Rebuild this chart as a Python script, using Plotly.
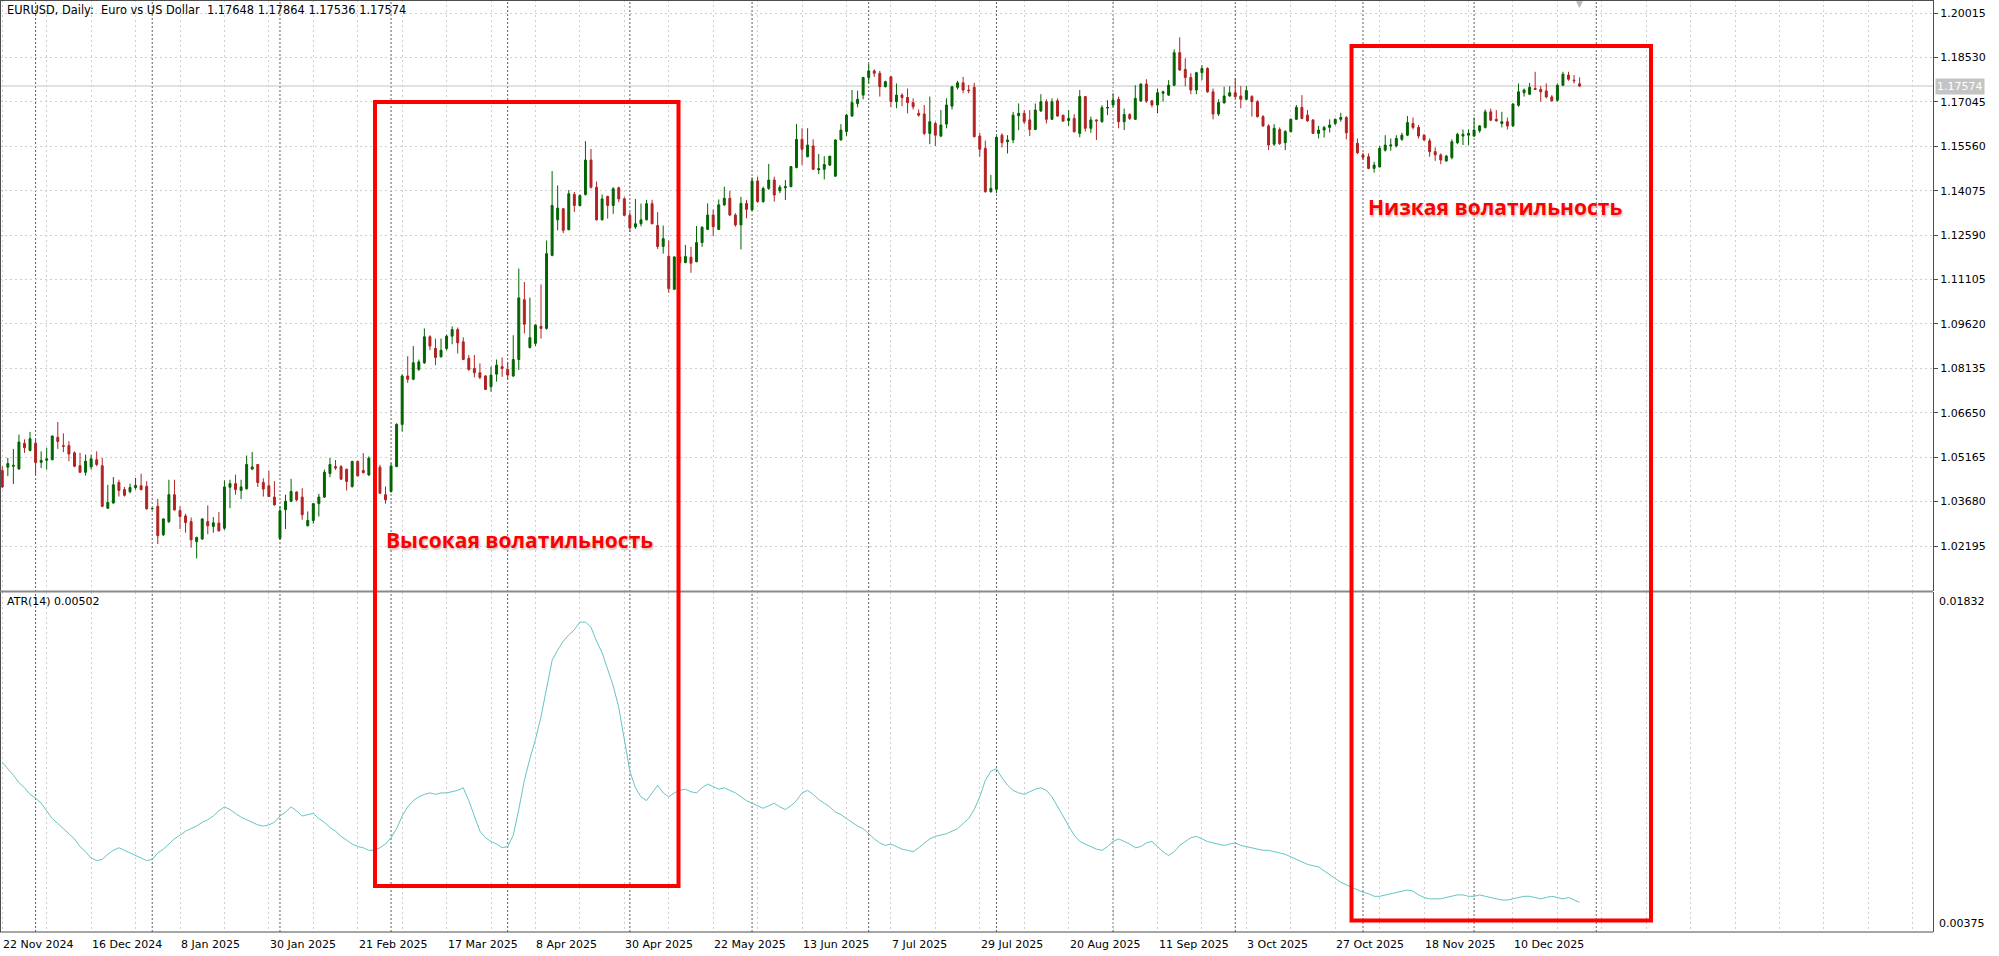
import plotly.graph_objects as go

# ---------------- data ----------------
bar_open = [
    1.0472, 1.0483, 1.0486, 1.0477, 1.0563, 1.0539, 1.0563, 1.0499, 1.0506, 1.0508,
    1.0583, 1.0555, 1.0555, 1.0531, 1.0488, 1.0466, 1.0484, 1.0508, 1.0488, 1.0346,
    1.0363, 1.0432, 1.0408, 1.0401, 1.0415, 1.0421, 1.0419, 1.0344, 1.0352, 1.0257,
    1.0301, 1.0391, 1.0338, 1.0320, 1.0301, 1.0234, 1.0243, 1.0301, 1.0285, 1.0296,
    1.0279, 1.0416, 1.0428, 1.0405, 1.0411, 1.0477, 1.0492, 1.0432, 1.0421, 1.0383,
    1.0245, 1.0341, 1.0369, 1.0400, 1.0383, 1.0287, 1.0305, 1.0361, 1.0383, 1.0462,
    1.0485, 1.0485, 1.0476, 1.0418, 1.0502, 1.0472, 1.0457, 1.0508, 1.0483, 1.0391,
    1.0402, 1.0485, 1.0626, 1.0788, 1.0777, 1.0810, 1.0832, 1.0919, 1.0880, 1.0852,
    1.0880, 1.0921, 1.0943, 1.0902, 1.0847, 1.0813, 1.0799, 1.0788, 1.0752, 1.0794,
    1.0819, 1.0810, 1.0788, 1.0843, 1.1043, 1.0883, 1.0897, 1.0954, 1.0947, 1.1191,
    1.1310, 1.1347, 1.1277, 1.1395, 1.1358, 1.1395, 1.1510, 1.1419, 1.1310, 1.1388,
    1.1358, 1.1417, 1.1380, 1.1325, 1.1286, 1.1297, 1.1310, 1.1364, 1.1291, 1.1221,
    1.1188, 1.1078, 1.1186, 1.1167, 1.1185, 1.1170, 1.1234, 1.1278, 1.1326, 1.1278,
    1.1360, 1.1382, 1.1326, 1.1293, 1.1365, 1.1343, 1.1440, 1.1371, 1.1415, 1.1443,
    1.1407, 1.1417, 1.1421, 1.1485, 1.1579, 1.1521, 1.1557, 1.1477, 1.1479, 1.1493,
    1.1456, 1.1577, 1.1605, 1.1657, 1.1699, 1.1727, 1.1786, 1.1808, 1.1800, 1.1755,
    1.1788, 1.1705, 1.1727, 1.1719, 1.1702, 1.1666, 1.1664, 1.1599, 1.1632, 1.1590,
    1.1630, 1.1690, 1.1753, 1.1768, 1.1744, 1.1753, 1.1590, 1.1549, 1.1404, 1.1412,
    1.1593, 1.1571, 1.1577, 1.1658, 1.1666, 1.1644, 1.1612, 1.1674, 1.1705, 1.1646,
    1.1708, 1.1660, 1.1642, 1.1649, 1.1599, 1.1722, 1.1616, 1.1644, 1.1638, 1.1684,
    1.1694, 1.1713, 1.1638, 1.1662, 1.1646, 1.1707, 1.1764, 1.1708, 1.1694, 1.1733,
    1.1727, 1.1760, 1.1869, 1.1813, 1.1786, 1.1744, 1.1802, 1.1816, 1.1738, 1.1664,
    1.1701, 1.1724, 1.1735, 1.1724, 1.1713, 1.1722, 1.1705, 1.1655, 1.1624, 1.1563,
    1.1612, 1.1568, 1.1605, 1.1646, 1.1686, 1.1660, 1.1644, 1.1599, 1.1610, 1.1619,
    1.1632, 1.1646, 1.1652, 1.1601, 1.1566, 1.1527, 1.1521, 1.1482, 1.1487, 1.1543,
    1.1557, 1.1557, 1.1579, 1.1593, 1.1632, 1.1619, 1.1593, 1.1574, 1.1538, 1.1527,
    1.1507, 1.1518, 1.1568, 1.1590, 1.1593, 1.1590, 1.1608, 1.1619, 1.1671, 1.1646,
    1.1632, 1.1638, 1.1624, 1.1693, 1.1735, 1.1730, 1.1749, 1.1746, 1.1741, 1.1721,
    1.1710, 1.1760, 1.1794, 1.1777, 1.17648,
]
bar_high = [
    1.0486, 1.0514, 1.0544, 1.0592, 1.0576, 1.0601, 1.0576, 1.0536, 1.0548, 1.0589,
    1.0634, 1.0596, 1.0570, 1.0536, 1.0531, 1.0525, 1.0525, 1.0536, 1.0514, 1.0424,
    1.0450, 1.0441, 1.0417, 1.0428, 1.0447, 1.0461, 1.0436, 1.0347, 1.0377, 1.0312,
    1.0441, 1.0441, 1.0352, 1.0327, 1.0315, 1.0251, 1.0312, 1.0355, 1.0316, 1.0333,
    1.0439, 1.0441, 1.0458, 1.0441, 1.0522, 1.0534, 1.0493, 1.0446, 1.0471, 1.0436,
    1.0352, 1.0391, 1.0444, 1.0402, 1.0413, 1.0335, 1.0363, 1.0394, 1.0475, 1.0514,
    1.0507, 1.0490, 1.0478, 1.0505, 1.0505, 1.0530, 1.0519, 1.0523, 1.0491, 1.0418,
    1.0496, 1.0630, 1.0794, 1.0854, 1.0888, 1.0843, 1.0947, 1.0924, 1.0913, 1.0913,
    1.0927, 1.0954, 1.0950, 1.0917, 1.0858, 1.0858, 1.0830, 1.0791, 1.0819, 1.0843,
    1.0850, 1.0835, 1.0924, 1.1147, 1.1102, 1.1050, 1.0961, 1.1094, 1.1241, 1.1473,
    1.1425, 1.1350, 1.1410, 1.1403, 1.1395, 1.1573, 1.1547, 1.1438, 1.1395, 1.1391,
    1.1419, 1.1421, 1.1386, 1.1336, 1.1380, 1.1364, 1.1377, 1.1377, 1.1336, 1.1291,
    1.1241, 1.1188, 1.1210, 1.1226, 1.1220, 1.1289, 1.1289, 1.1365, 1.1345, 1.1378,
    1.1421, 1.1407, 1.1332, 1.1387, 1.1376, 1.1452, 1.1454, 1.1421, 1.1497, 1.1454,
    1.1426, 1.1443, 1.1490, 1.1630, 1.1616, 1.1616, 1.1579, 1.1530, 1.1523, 1.1523,
    1.1579, 1.1630, 1.1664, 1.1744, 1.1742, 1.1788, 1.1831, 1.1813, 1.1808, 1.1775,
    1.1791, 1.1766, 1.1733, 1.1749, 1.1716, 1.1679, 1.1694, 1.1722, 1.1638, 1.1677,
    1.1716, 1.1757, 1.1775, 1.1788, 1.1761, 1.1768, 1.1601, 1.1575, 1.1460, 1.1590,
    1.1599, 1.1593, 1.1671, 1.1699, 1.1677, 1.1677, 1.1699, 1.1730, 1.1713, 1.1716,
    1.1716, 1.1660, 1.1677, 1.1663, 1.1744, 1.1722, 1.1655, 1.1646, 1.1693, 1.1710,
    1.1733, 1.1722, 1.1682, 1.1666, 1.1760, 1.1766, 1.1780, 1.1710, 1.1749, 1.1742,
    1.1777, 1.1880, 1.1920, 1.1850, 1.1800, 1.1805, 1.1827, 1.1820, 1.1749, 1.1713,
    1.1755, 1.1757, 1.1783, 1.1757, 1.1757, 1.1727, 1.1710, 1.1660, 1.1630, 1.1630,
    1.1619, 1.1610, 1.1649, 1.1694, 1.1727, 1.1677, 1.1646, 1.1624, 1.1624, 1.1646,
    1.1649, 1.1668, 1.1657, 1.1612, 1.1582, 1.1534, 1.1532, 1.1504, 1.1557, 1.1593,
    1.1582, 1.1593, 1.1601, 1.1657, 1.1652, 1.1627, 1.1597, 1.1582, 1.1552, 1.1532,
    1.1527, 1.1579, 1.1601, 1.1612, 1.1612, 1.1652, 1.1627, 1.1679, 1.1682, 1.1677,
    1.1671, 1.1652, 1.1701, 1.1766, 1.1749, 1.1768, 1.1805, 1.1757, 1.1766, 1.1727,
    1.1766, 1.1805, 1.1805, 1.1794, 1.17864,
]
bar_low = [
    1.0413, 1.0453, 1.0427, 1.0475, 1.0531, 1.0536, 1.0458, 1.0480, 1.0475, 1.0506,
    1.0544, 1.0533, 1.0503, 1.0483, 1.0464, 1.0455, 1.0475, 1.0486, 1.0349, 1.0343,
    1.0362, 1.0385, 1.0385, 1.0396, 1.0408, 1.0405, 1.0341, 1.0341, 1.0226, 1.0253,
    1.0296, 1.0338, 1.0276, 1.0264, 1.0214, 1.0178, 1.0240, 1.0259, 1.0264, 1.0268,
    1.0273, 1.0346, 1.0391, 1.0376, 1.0408, 1.0473, 1.0417, 1.0385, 1.0383, 1.0354,
    1.0240, 1.0276, 1.0366, 1.0369, 1.0307, 1.0285, 1.0294, 1.0318, 1.0380, 1.0450,
    1.0474, 1.0440, 1.0405, 1.0415, 1.0452, 1.0461, 1.0454, 1.0480, 1.0394, 1.0361,
    1.0398, 1.0483, 1.0602, 1.0765, 1.0774, 1.0805, 1.0828, 1.0874, 1.0824, 1.0850,
    1.0874, 1.0894, 1.0863, 1.0841, 1.0805, 1.0783, 1.0777, 1.0741, 1.0735, 1.0769,
    1.0785, 1.0777, 1.0785, 1.0808, 1.0930, 1.0880, 1.0888, 1.0913, 1.0943, 1.1188,
    1.1275, 1.1266, 1.1275, 1.1336, 1.1355, 1.1391, 1.1414, 1.1308, 1.1308, 1.1314,
    1.1330, 1.1369, 1.1322, 1.1269, 1.1280, 1.1288, 1.1308, 1.1295, 1.1213, 1.1197,
    1.1066, 1.1075, 1.1160, 1.1165, 1.1133, 1.1168, 1.1220, 1.1276, 1.1256, 1.1276,
    1.1356, 1.1323, 1.1287, 1.1211, 1.1315, 1.1341, 1.1367, 1.1367, 1.1410, 1.1371,
    1.1399, 1.1376, 1.1419, 1.1482, 1.1493, 1.1519, 1.1477, 1.1463, 1.1445, 1.1490,
    1.1454, 1.1575, 1.1590, 1.1655, 1.1686, 1.1713, 1.1766, 1.1788, 1.1722, 1.1753,
    1.1686, 1.1683, 1.1690, 1.1666, 1.1679, 1.1655, 1.1593, 1.1563, 1.1557, 1.1586,
    1.1616, 1.1679, 1.1746, 1.1733, 1.1733, 1.1586, 1.1521, 1.1401, 1.1401, 1.1399,
    1.1552, 1.1532, 1.1566, 1.1610, 1.1630, 1.1590, 1.1610, 1.1671, 1.1632, 1.1644,
    1.1655, 1.1638, 1.1624, 1.1601, 1.1586, 1.1605, 1.1601, 1.1577, 1.1635, 1.1660,
    1.1686, 1.1616, 1.1610, 1.1644, 1.1644, 1.1705, 1.1701, 1.1686, 1.1666, 1.1705,
    1.1724, 1.1757, 1.1808, 1.1757, 1.1730, 1.1730, 1.1777, 1.1735, 1.1646, 1.1657,
    1.1699, 1.1722, 1.1716, 1.1683, 1.1710, 1.1655, 1.1652, 1.1621, 1.1543, 1.1557,
    1.1560, 1.1543, 1.1602, 1.1644, 1.1646, 1.1638, 1.1597, 1.1582, 1.1585, 1.1602,
    1.1626, 1.1638, 1.1579, 1.1565, 1.1530, 1.1510, 1.1479, 1.1468, 1.1485, 1.1538,
    1.1541, 1.1552, 1.1574, 1.1590, 1.1612, 1.1582, 1.1574, 1.1521, 1.1507, 1.1496,
    1.1504, 1.1512, 1.1563, 1.1560, 1.1560, 1.1588, 1.1601, 1.1615, 1.1641, 1.1638,
    1.1619, 1.1612, 1.1621, 1.1688, 1.1722, 1.1727, 1.1744, 1.1705, 1.1716, 1.1705,
    1.1705, 1.1757, 1.1775, 1.1766, 1.17536,
]
bar_close = [
    1.0417, 1.0495, 1.0489, 1.0567, 1.0548, 1.0578, 1.0499, 1.0506, 1.0511, 1.0587,
    1.0569, 1.0553, 1.0527, 1.0486, 1.0466, 1.0503, 1.0511, 1.0492, 1.0352, 1.0365,
    1.0424, 1.0405, 1.0389, 1.0415, 1.0422, 1.0408, 1.0344, 1.0345, 1.0254, 1.0310,
    1.0391, 1.0340, 1.0318, 1.0298, 1.0240, 1.0248, 1.0310, 1.0287, 1.0297, 1.0270,
    1.0417, 1.0428, 1.0408, 1.0417, 1.0492, 1.0484, 1.0432, 1.0410, 1.0385, 1.0357,
    1.0337, 1.0369, 1.0402, 1.0374, 1.0324, 1.0305, 1.0361, 1.0383, 1.0466, 1.0492,
    1.0480, 1.0443, 1.0435, 1.0502, 1.0454, 1.0465, 1.0513, 1.0487, 1.0396, 1.0374,
    1.0487, 1.0626, 1.0788, 1.0777, 1.0832, 1.0835, 1.0919, 1.0888, 1.0850, 1.0874,
    1.0921, 1.0943, 1.0899, 1.0843, 1.0810, 1.0799, 1.0783, 1.0743, 1.0791, 1.0824,
    1.0813, 1.0791, 1.0843, 1.1049, 1.0961, 1.0916, 1.0958, 1.0947, 1.1197, 1.1358,
    1.1349, 1.1275, 1.1397, 1.1358, 1.1391, 1.1510, 1.1419, 1.1310, 1.1380, 1.1358,
    1.1414, 1.1380, 1.1325, 1.1283, 1.1297, 1.1310, 1.1364, 1.1297, 1.1221, 1.1247,
    1.1080, 1.1186, 1.1168, 1.1187, 1.1165, 1.1234, 1.1285, 1.1326, 1.1287, 1.1360,
    1.1382, 1.1326, 1.1293, 1.1365, 1.1345, 1.1440, 1.1371, 1.1415, 1.1443, 1.1393,
    1.1419, 1.1421, 1.1488, 1.1579, 1.1546, 1.1560, 1.1479, 1.1481, 1.1495, 1.1523,
    1.1577, 1.1610, 1.1660, 1.1702, 1.1713, 1.1786, 1.1808, 1.1800, 1.1755, 1.1772,
    1.1705, 1.1727, 1.1719, 1.1702, 1.1688, 1.1660, 1.1599, 1.1638, 1.1593, 1.1627,
    1.1694, 1.1755, 1.1768, 1.1744, 1.1742, 1.1588, 1.1546, 1.1404, 1.1415, 1.1586,
    1.1568, 1.1577, 1.1660, 1.1666, 1.1638, 1.1612, 1.1677, 1.1705, 1.1646, 1.1705,
    1.1657, 1.1640, 1.1649, 1.1605, 1.1722, 1.1616, 1.1644, 1.1641, 1.1685, 1.1685,
    1.1710, 1.1638, 1.1662, 1.1649, 1.1716, 1.1764, 1.1707, 1.1694, 1.1735, 1.1738,
    1.1760, 1.1869, 1.1811, 1.1786, 1.1744, 1.1802, 1.1816, 1.1738, 1.1664, 1.1702,
    1.1724, 1.1735, 1.1722, 1.1713, 1.1742, 1.1705, 1.1655, 1.1624, 1.1560, 1.1616,
    1.1565, 1.1605, 1.1646, 1.1686, 1.1649, 1.1641, 1.1599, 1.1610, 1.1619, 1.1627,
    1.1646, 1.1652, 1.1601, 1.1570, 1.1534, 1.1519, 1.1482, 1.1493, 1.1549, 1.1560,
    1.1560, 1.1582, 1.1593, 1.1635, 1.1619, 1.1590, 1.1577, 1.1538, 1.1527, 1.1510,
    1.1523, 1.1571, 1.1596, 1.1596, 1.1599, 1.1610, 1.1624, 1.1671, 1.1643, 1.1641,
    1.1638, 1.1624, 1.1697, 1.1738, 1.1744, 1.1753, 1.1746, 1.1738, 1.1721, 1.1708,
    1.1760, 1.1797, 1.1780, 1.1775, 1.17574,
]
atr_values = [
    0.01102, 0.01075, 0.01047, 0.01015, 0.00993, 0.00965, 0.00949, 0.00927, 0.00894, 0.00861,
    0.00840, 0.00818, 0.00796, 0.00774, 0.00741, 0.00719, 0.00692, 0.00681, 0.00686, 0.00708,
    0.00725, 0.00736, 0.00725, 0.00714, 0.00703, 0.00692, 0.00681, 0.00686, 0.00714, 0.00730,
    0.00752, 0.00774, 0.00790, 0.00807, 0.00818, 0.00829, 0.00845, 0.00856, 0.00872, 0.00894,
    0.00911, 0.00900, 0.00883, 0.00867, 0.00856, 0.00845, 0.00834, 0.00829, 0.00834, 0.00845,
    0.00872, 0.00889, 0.00911, 0.00894, 0.00872, 0.00878, 0.00883, 0.00861, 0.00845, 0.00823,
    0.00807, 0.00785, 0.00768, 0.00752, 0.00741, 0.00736, 0.00725, 0.00725, 0.00736, 0.00752,
    0.00779, 0.00818, 0.00872, 0.00911, 0.00938, 0.00954, 0.00965, 0.00971, 0.00965, 0.00971,
    0.00971, 0.00976, 0.00982, 0.00993, 0.00938, 0.00872, 0.00807, 0.00779, 0.00763, 0.00752,
    0.00736, 0.00741, 0.00790, 0.00900, 0.01025, 0.01118, 0.01200, 0.01298, 0.01419, 0.01539,
    0.01583, 0.01621, 0.01648, 0.01670, 0.01703, 0.01703, 0.01681, 0.01621, 0.01572, 0.01500,
    0.01430, 0.01337, 0.01200, 0.01064, 0.00993, 0.00954, 0.00938, 0.00971, 0.01004, 0.00971,
    0.00954, 0.00971, 0.00982, 0.00987, 0.00976, 0.00971, 0.00993, 0.01009, 0.00998, 0.00987,
    0.00993, 0.00982, 0.00971, 0.00954, 0.00938, 0.00927, 0.00916, 0.00905, 0.00916, 0.00927,
    0.00911, 0.00900, 0.00916, 0.00938, 0.00971, 0.00982, 0.00965, 0.00943, 0.00927, 0.00911,
    0.00889, 0.00878, 0.00861, 0.00845, 0.00829, 0.00818, 0.00796, 0.00774, 0.00757, 0.00746,
    0.00752, 0.00741, 0.00730, 0.00725, 0.00719, 0.00736, 0.00757, 0.00774, 0.00785, 0.00790,
    0.00796, 0.00807, 0.00818, 0.00840, 0.00861, 0.00900, 0.00954, 0.01025, 0.01064, 0.01075,
    0.01036, 0.01004, 0.00982, 0.00971, 0.00965, 0.00976, 0.00987, 0.00993, 0.00982, 0.00954,
    0.00916, 0.00872, 0.00829, 0.00790, 0.00763, 0.00752, 0.00741, 0.00730, 0.00725, 0.00741,
    0.00763, 0.00774, 0.00763, 0.00752, 0.00736, 0.00741, 0.00757, 0.00763, 0.00741, 0.00719,
    0.00703, 0.00719, 0.00746, 0.00763, 0.00779, 0.00785, 0.00774, 0.00763, 0.00757, 0.00752,
    0.00746, 0.00752, 0.00757, 0.00746, 0.00741, 0.00736, 0.00730, 0.00725, 0.00725, 0.00719,
    0.00714, 0.00708, 0.00697, 0.00686, 0.00675, 0.00665, 0.00659, 0.00654, 0.00637, 0.00621,
    0.00605, 0.00588, 0.00577, 0.00566, 0.00555, 0.00545, 0.00539, 0.00528, 0.00528, 0.00534,
    0.00539, 0.00545, 0.00550, 0.00555, 0.00550, 0.00534, 0.00523, 0.00517, 0.00517, 0.00517,
    0.00523, 0.00528, 0.00534, 0.00534, 0.00528, 0.00528, 0.00534, 0.00528, 0.00523, 0.00517,
    0.00512, 0.00512, 0.00517, 0.00523, 0.00528, 0.00528, 0.00523, 0.00517, 0.00523, 0.00528,
    0.00523, 0.00517, 0.00523, 0.00512, 0.00502,
]
date_labels = ["22 Nov 2024", "16 Dec 2024", "8 Jan 2025", "30 Jan 2025", "21 Feb 2025",
               "17 Mar 2025", "8 Apr 2025", "30 Apr 2025", "22 May 2025", "13 Jun 2025",
               "7 Jul 2025", "29 Jul 2025", "20 Aug 2025", "11 Sep 2025", "3 Oct 2025",
               "27 Oct 2025", "18 Nov 2025", "10 Dec 2025"]
label_every = 16          # bars between date labels
grid_every = 8            # bars between vertical grid lines
month_start_bars = [6, 27, 50, 70, 91, 113, 135, 156, 179, 200, 222, 245, 265, 287]
price_labels = ["1.20015", "1.18530", "1.17045", "1.15560", "1.14075", "1.12590", "1.11105",
                "1.09620", "1.08135", "1.06650", "1.05165", "1.03680", "1.02195"]
atr_scale_labels = ["0.01832", "0.00375"]
symbol_text = "EURUSD, Daily:  Euro vs US Dollar"
atr_name = "ATR(14)"
note_high = "Высокая волатильность"
note_low = "Низкая волатильность"

n = min(len(bar_open), len(bar_high), len(bar_low), len(bar_close), len(atr_values))
bars = list(range(n))

# ---------------- geometry (pixels of the 1999x956 page) ----------------
FIG_W, FIG_H = 1999, 956
AREA_R = 1933                 # right edge of the chart area
MAIN_BOT = 591
SUB_TOP, SUB_BOT = 592, 932
BAR0_PX, BAR_PX = 2.27, 5.554  # x of bar 0 and bar spacing
PX_PER_PRICE = 2991.0
TOP_LABEL_PX = 13              # y of the first price label

def px_x(px):
    return px / AREA_R

def px_y(py):
    return 1 - py / FIG_H

x_range = [-BAR0_PX / BAR_PX, (AREA_R - BAR0_PX) / BAR_PX]
p_top_lab = float(price_labels[0])
main_range = [p_top_lab + (TOP_LABEL_PX - MAIN_BOT) / PX_PER_PRICE,
              p_top_lab + TOP_LABEL_PX / PX_PER_PRICE]
atr_range = [float(atr_scale_labels[1]), float(atr_scale_labels[0])]

GRID = "#cfcfcf"
AXC = "#4d4d4d"
SMALL = dict(family="DejaVu Sans", size=11, color="#000000")
NB = "\u00a0"

fig = go.Figure()
fig.add_trace(go.Candlestick(
    x=bars, open=bar_open[:n], high=bar_high[:n], low=bar_low[:n], close=bar_close[:n],
    increasing=dict(line=dict(color="#006400", width=1), fillcolor="#006400"),
    decreasing=dict(line=dict(color="#b22222", width=1), fillcolor="#b22222"),
    whiskerwidth=0, hoverinfo="skip", xaxis="x", yaxis="y", showlegend=False,
))
fig.add_trace(go.Scatter(
    x=bars, y=atr_values[:n], mode="lines",
    line=dict(color="#66c4c4", width=1), hoverinfo="skip",
    xaxis="x2", yaxis="y2", showlegend=False,
))

grid_vals = list(range(0, int(x_range[1]) + 1, grid_every))
xcommon = dict(range=x_range, tickvals=grid_vals, showticklabels=False, ticks="",
               showgrid=True, gridcolor=GRID, gridwidth=1, griddash="2px,3px",
               zeroline=False, showline=False, fixedrange=True)

fig.update_layout(
    width=FIG_W, height=FIG_H,
    margin=dict(l=0, r=FIG_W - AREA_R, t=0, b=0),
    paper_bgcolor="white", plot_bgcolor="white",
    showlegend=False, hovermode=False, dragmode=False, boxgap=0.5,
    font=SMALL,
    xaxis=dict(domain=[0, 1], anchor="y", rangeslider=dict(visible=False), **xcommon),
    xaxis2=dict(domain=[0, 1], anchor="y2", matches="x", **xcommon),
    yaxis=dict(domain=[px_y(MAIN_BOT), 1], range=main_range, side="right", anchor="x",
               tickvals=[float(s) for s in price_labels], ticktext=price_labels,
               showgrid=True, gridcolor=GRID, gridwidth=1, griddash="2px,3px",
               ticks="outside", ticklen=4, tickcolor=AXC, showline=True, linecolor=AXC,
               linewidth=1, zeroline=False, tickfont=SMALL, automargin=False, fixedrange=True),
    yaxis2=dict(domain=[px_y(SUB_BOT), px_y(SUB_TOP)], range=atr_range, side="right",
                anchor="x2", showticklabels=False, showgrid=False, ticks="",
                showline=True, linecolor=AXC, linewidth=1, zeroline=False, fixedrange=True),
)

shapes = []
# month separators
for m in month_start_bars:
    shapes.append(dict(type="line", xref="x", yref="paper", x0=m, x1=m,
                       y0=px_y(SUB_BOT), y1=1, layer="below",
                       line=dict(color="#5f5f5f", width=1, dash="2px,2px")))
# bid line
shapes.append(dict(type="line", xref="paper", yref="y", x0=0, x1=1,
                   y0=bar_close[n - 1], y1=bar_close[n - 1], layer="below",
                   line=dict(color="#c4c4c4", width=1)))
# frame
shapes += [
    dict(type="line", xref="paper", yref="paper", x0=px_x(0.5), x1=px_x(0.5),
         y0=px_y(SUB_BOT), y1=1, line=dict(color=AXC, width=1)),
    dict(type="line", xref="paper", yref="paper", x0=0, x1=1,
         y0=px_y(0.5), y1=px_y(0.5), line=dict(color=AXC, width=1)),
    dict(type="line", xref="paper", yref="paper", x0=0, x1=1,
         y0=px_y(SUB_BOT), y1=px_y(SUB_BOT), line=dict(color=AXC, width=1)),
    dict(type="line", xref="paper", yref="paper", x0=0, x1=1,
         y0=px_y(591.5), y1=px_y(591.5), line=dict(color="#8a8a8a", width=2)),
]
# red highlight boxes
for (x0, y0, x1, y1) in [(375, 102, 678.5, 886), (1351.5, 46, 1651, 920.5)]:
    shapes.append(dict(type="rect", xref="paper", yref="paper",
                       x0=px_x(x0), x1=px_x(x1), y0=px_y(y1), y1=px_y(y0),
                       line=dict(color="#ff0000", width=4), fillcolor="rgba(0,0,0,0)"))
fig.update_layout(shapes=shapes)

ann = []
last = n - 1
title = (symbol_text.replace("  ", NB + NB) + NB + NB +
         " ".join(f"{v:.5f}" for v in (bar_open[last], bar_high[last], bar_low[last], bar_close[last])))
ann.append(dict(x=px_x(5), y=px_y(10), xref="paper", yref="paper", text=title,
                xanchor="left", yanchor="middle", showarrow=False,
                font=dict(family="DejaVu Sans", size=11.4, color="#000000")))
ann.append(dict(x=px_x(5), y=px_y(601), xref="paper", yref="paper",
                text=f"{atr_name} {atr_values[last]:.5f}",
                xanchor="left", yanchor="middle", showarrow=False, font=SMALL))
for k, t in enumerate(date_labels):
    ann.append(dict(x=k * label_every, y=px_y(944), xref="x2", yref="paper", text=t,
                    xanchor="left", yanchor="middle", showarrow=False, font=SMALL, xshift=-1))
ann.append(dict(x=1, y=float(atr_scale_labels[0]), xref="paper", yref="y2",
                text=atr_scale_labels[0], xanchor="left", yanchor="top", xshift=4, yshift=-1,
                showarrow=False, font=SMALL))
ann.append(dict(x=1, y=float(atr_scale_labels[1]), xref="paper", yref="y2",
                text=atr_scale_labels[1], xanchor="left", yanchor="bottom", xshift=4, yshift=0,
                showarrow=False, font=SMALL))
ann.append(dict(x=1, y=bar_close[last], xref="paper", yref="y", text=f"{bar_close[last]:.5f}",
                xanchor="left", yanchor="middle", xshift=2, showarrow=False,
                bgcolor="#c4c4c4", borderpad=1,
                font=dict(family="DejaVu Sans", size=11, color="#ffffff")))
ann.append(dict(x=last, y=px_y(4), xref="x", yref="paper", text="▼", xanchor="center",
                yanchor="middle", showarrow=False,
                font=dict(family="DejaVu Sans", size=9, color="#b8b8b8")))
note_font = dict(family="Open Sans", size=21, color="#ff0000", weight="bold",
                 shadow="1px 2px 2px rgba(190,150,150,0.6)")
ann.append(dict(x=px_x(519.5), y=px_y(540), xref="paper", yref="paper", text=note_high,
                xanchor="center", yanchor="middle", showarrow=False, font=note_font))
ann.append(dict(x=px_x(1494.5), y=px_y(207), xref="paper", yref="paper", text=note_low,
                xanchor="center", yanchor="middle", showarrow=False, font=note_font))
fig.update_layout(annotations=ann)

fig.write_html("out.html")
